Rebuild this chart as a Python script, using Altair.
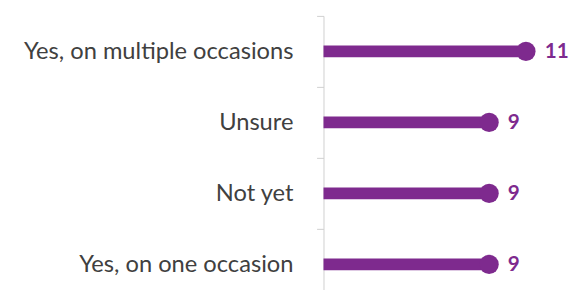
import altair as alt
import pandas as pd

categories = ["Yes, on multiple occasions", "Unsure", "Not yet", "Yes, on one occasion"]
values = [11, 9, 9, 9]

df = pd.DataFrame({"category": categories, "value": values})

PURPLE = "#7E2A8E"
FONT = "Lato"

y_enc = alt.Y(
    "category:N",
    sort=categories,
    scale=alt.Scale(paddingInner=0, paddingOuter=0, range=[0, 288]),
    axis=alt.Axis(
        title=None,
        labelFont=FONT,
        labelFontSize=24,
        labelColor="#404040",
        labelPadding=24,
        labelLimit=0,
        tickBand="extent",
        tickSize=7,
        tickColor="#cfcfcf",
        domainColor="#cfcfcf",
        tickWidth=1,
        domainWidth=1,
        grid=False,
    ),
)
x_scale = alt.Scale(domain=[0, 12])
x_enc = alt.X("value:Q", scale=x_scale, axis=None)

base = alt.Chart(df).encode(y=y_enc, x=x_enc)

bars = base.mark_bar(color=PURPLE, size=12)
dots = base.mark_circle(color=PURPLE, size=380, opacity=1)
labels = base.mark_text(
    color=PURPLE, font=FONT, fontSize=21, fontWeight="bold",
    align="left", baseline="middle", dx=19, dy=1
).encode(text="value:Q")

chart = (
    alt.layer(bars, dots, labels)
    .properties(
        width=224,
        height=276,
        background="white",
        autosize=alt.AutoSizeParams(type="none"),
        padding={"left": 320, "top": 6, "right": 25, "bottom": 0},
    )
    .configure_view(strokeWidth=0, stroke=None)
)

chart.save("out.html", embed_options={"renderer": "svg", "actions": False})
